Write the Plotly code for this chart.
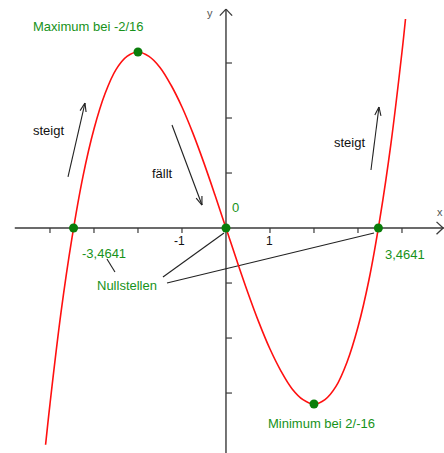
import numpy as np
import plotly.graph_objects as go

# f(x) = x^3 - 12x, sampled points of the curve
curve_x = [-4.1, -4.0, -3.75, -3.5, -3.25, -3.0, -2.75, -2.5, -2.25, -2.0, -1.75, -1.5,
           -1.25, -1.0, -0.75, -0.5, -0.25, 0.0, 0.25, 0.5, 0.75, 1.0, 1.25, 1.5, 1.75,
           2.0, 2.25, 2.5, 2.75, 3.0, 3.25, 3.5, 3.75, 4.0, 4.08]
curve_y = [-19.7, -16.0, -7.7, -0.9, 4.7, 9.0, 12.2, 14.4, 15.6, 16.0, 15.6, 14.6,
           13.0, 11.0, 8.6, 5.9, 3.0, 0.0, -3.0, -5.9, -8.6, -11.0, -13.0, -14.6, -15.6,
           -16.0, -15.6, -14.4, -12.2, -9.0, -4.7, 0.9, 7.7, 16.0, 19.0]

# special points: zeros, maximum, minimum
pts_x = [-3.4641, 0.0, 3.4641, -2.0, 2.0]
pts_y = [0.0, 0.0, 0.0, 16.0, -16.0]

x_ticks = [-4, -3, -2, -1, 1, 2, 3, 4]
y_ticks = [-15, -10, -5, 5, 10, 15]
x_tick_labels = {-1: "-1", 1: "1"}

XR = [-5.136, 4.955]
YR = [-20.45, 20.727]
W, H = 444, 453
sx = W / (XR[1] - XR[0])   # px per x unit
sy = H / (YR[1] - YR[0])   # px per y unit

AXIS = "#3a3a3a"
GREEN_TXT = "#17921a"
GREEN_PT = "#0a7d0a"
FONT = "Liberation Sans, Arial, sans-serif"

fig = go.Figure()

def seg(x0, y0, x1, y1, color=AXIS, width=1.2):
    fig.add_shape(type="line", x0=x0, y0=y0, x1=x1, y1=y1, xref="x", yref="y",
                  line=dict(color=color, width=width), layer="below")

# axes
seg(-4.8, 0, XR[1], 0, width=1.4)
seg(0, YR[0], 0, 19.9, width=1.4)

def open_head(xh, yh, dx_px, dy_px, size=8, spread=0.45, color=AXIS, width=1.2):
    # dx_px, dy_px: direction of the arrow in screen pixels (y down)
    ang = np.arctan2(dy_px, dx_px)
    for s in (+1, -1):
        a = ang + np.pi + s * spread
        ex = xh + size * np.cos(a) / sx
        ey = yh - size * np.sin(a) / sy
        seg(xh, yh, ex, ey, color=color, width=width)

open_head(0, 19.9, 0, -1, size=9, spread=0.75, width=1.3)
open_head(XR[1] - 0.02, 0, 1, 0, size=9, spread=0.75, width=1.3)

# tick marks (below x axis, right of y axis)
for t in x_ticks:
    seg(t, 0, t, -5 / sy)
for t in y_ticks:
    seg(0, t, 6 / sx, t)

# curve
fig.add_trace(go.Scatter(x=curve_x, y=curve_y, mode="lines", line_shape="spline",
                         line=dict(color="#ff1010", width=1.6), hoverinfo="skip"))
fig.add_trace(go.Scatter(x=pts_x, y=pts_y, mode="markers",
                         marker=dict(color=GREEN_PT, size=9), hoverinfo="skip"))

# arrows for rising / falling parts
def arrow(x0, y0, x1, y1):
    seg(x0, y0, x1, y1, color="#222222", width=1.1)
    open_head(x1, y1, (x1 - x0) * sx, -(y1 - y0) * sy, size=9, spread=0.35,
              color="#222222", width=1.1)

arrow(-3.59, 4.64, -3.205, 11.36)
arrow(-1.227, 9.36, -0.545, 2.09)
arrow(3.295, 5.27, 3.477, 11.0)

# pointer lines to the zeros
seg(-2.705, -2.82, -2.523, -4.0, color="#222222", width=1.1)
seg(-1.432, -4.45, -0.045, -0.45, color="#222222", width=1.1)
seg(-1.341, -5.0, 3.364, -0.45, color="#222222", width=1.1)

def label(x, y, text, color, size=13):
    fig.add_annotation(x=x, y=y, text=text, showarrow=False, xref="x", yref="y",
                       font=dict(family=FONT, size=size, color=color),
                       xanchor="center", yanchor="middle")

label(-3.114, 18.36, "Maximum bei -2/16", GREEN_TXT)
label(2.182, -17.8, "Minimum bei 2/-16", GREEN_TXT)
label(-2.773, -2.27, "-3,4641", GREEN_TXT)
label(4.068, -2.45, "3,4641", GREEN_TXT)
label(0.227, 1.91, "0", GREEN_TXT)
label(-2.239, -5.18, "Nullstellen", GREEN_TXT)
label(-4.023, 8.91, "steigt", "#111111")
label(-1.432, 5.0, "fällt", "#111111")
label(2.818, 7.73, "steigt", "#111111")
label(-0.364, 19.55, "y", "#555555", size=11)
label(4.864, 1.45, "x", "#555555", size=11)
for t, txt in x_tick_labels.items():
    label(t - (0.05 if t < 0 else 0), -1.18, txt, "#111111", size=12)

fig.update_layout(
    width=W, height=H, margin=dict(l=0, r=0, t=0, b=0),
    paper_bgcolor="white", plot_bgcolor="white", showlegend=False,
    xaxis=dict(range=XR, visible=False, fixedrange=True),
    yaxis=dict(range=YR, visible=False, fixedrange=True),
)

fig.write_html("out.html")
